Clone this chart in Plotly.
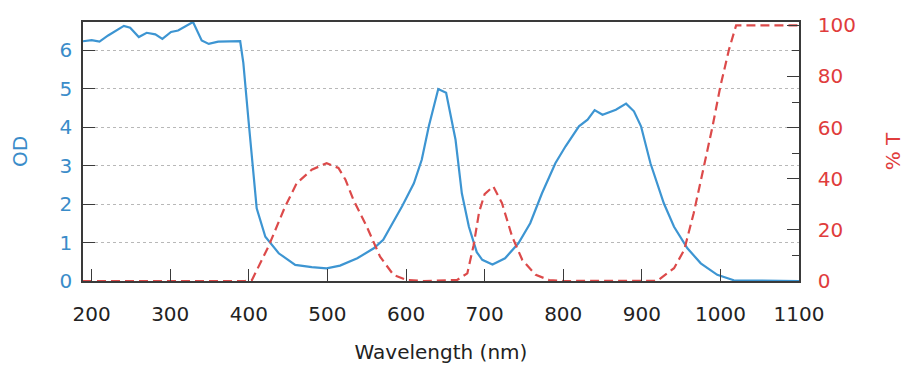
import plotly.graph_objects as go

# Optical density (blue, left axis)
od_wavelength = [189, 200, 210, 221, 241, 249, 260, 270, 281, 290, 301, 310, 329, 340, 349, 361, 389,
                 393, 399.5, 404, 410, 421, 438, 459, 480, 499, 516, 538, 559, 571, 595, 610, 620,
                 629, 641, 651, 663, 671, 680, 690, 697, 710, 726, 743, 758, 773, 790, 803, 820,
                 831, 840, 850, 867, 880, 890, 899, 911, 928, 941, 958, 975, 996, 1017, 1100]
od_values = [6.23, 6.26, 6.22, 6.38, 6.63, 6.58, 6.34, 6.45, 6.41, 6.29, 6.47, 6.51, 6.73, 6.25, 6.16, 6.22, 6.23,
             5.67, 4.19, 3.15, 1.89, 1.15, 0.72, 0.42, 0.36, 0.33, 0.40, 0.59, 0.85, 1.07, 1.94, 2.54, 3.15,
             4.02, 4.99, 4.89, 3.67, 2.28, 1.41, 0.75, 0.55, 0.43, 0.59, 0.98, 1.50, 2.28, 3.06, 3.50, 4.02,
             4.19, 4.44, 4.32, 4.45, 4.61, 4.41, 4.02, 3.06, 2.02, 1.41, 0.85, 0.46, 0.16, 0.02, 0.0]

# Transmission (red dashed, right axis)
t_wavelength = [189, 395, 404, 425, 446, 461, 480, 499, 514, 523, 533, 550, 567, 584, 601, 622,
                665, 678, 686, 693, 700, 711, 722, 735, 748, 765, 782, 800, 920, 941, 954, 966,
                979, 990, 1000, 1011, 1020, 1100]
t_values = [0, 0, 0.4, 13.5, 29, 38.3, 43.5, 46.1, 44.2, 39.6, 31.8, 21.3, 9.5, 2.4, 0.4, 0,
            0.4, 3, 14, 27, 34, 37, 30.5, 17.4, 8.2, 2.4, 0.4, 0, 0.1, 5, 12.2, 26.5,
            44.8, 60.5, 76.2, 90.6, 100, 100]

x_ticks = [200, 300, 400, 500, 600, 700, 800, 900, 1000, 1100]
od_ticks = [0, 1, 2, 3, 4, 5, 6]
t_ticks = [0, 20, 40, 60, 80, 100]

BLUE_LINE = "#3d95d2"
BLUE_TEXT = "#3a8cc9"
RED_LINE = "#dc4a4a"
RED_TEXT = "#e03c3c"
AX = "#3a3a3a"
FONT = "DejaVu Sans"

fig = go.Figure()
fig.add_trace(go.Scatter(x=od_wavelength, y=od_values, mode="lines",
                         line=dict(color=BLUE_LINE, width=2.2), yaxis="y", showlegend=False))
fig.add_trace(go.Scatter(x=t_wavelength, y=t_values, mode="lines",
                         line=dict(color=RED_LINE, width=2.2, dash="9px,5px"), yaxis="y2",
                         showlegend=False))

fig.update_layout(
    width=900, height=370,
    margin=dict(l=75, r=109, t=14, b=97, pad=0),
    plot_bgcolor="white", paper_bgcolor="white",
    font=dict(family=FONT, size=20, color="#222"),
    xaxis=dict(range=[189, 1100], tickvals=x_ticks, ticktext=[str(v) for v in x_ticks],
               automargin=False,
               ticks="inside", ticklen=12, tickwidth=1.3, tickcolor=AX, ticklabelstandoff=14,
               showline=True, linecolor=AX, linewidth=1.5, mirror=True,
               showgrid=False, zeroline=False,
               tickfont=dict(family=FONT, size=20, color="#222"),
               title=dict(text="Wavelength (nm)", font=dict(family=FONT, size=20, color="#222"), standoff=20)),
    yaxis=dict(range=[0, 6.73], tickvals=od_ticks, automargin=False,
               ticks="inside", ticklen=12, tickwidth=1.3, tickcolor=AX,
               ticklabelstandoff=5,
               showline=True, linecolor=AX, linewidth=1.5,
               showgrid=True, gridcolor="#b8b8b8", gridwidth=1, griddash="dot", zeroline=False,
               tickfont=dict(family=FONT, size=20, color=BLUE_TEXT),
               title=dict(text="OD", font=dict(family=FONT, size=20, color=BLUE_TEXT), standoff=38)),
    yaxis2=dict(range=[0, 101.3], tickvals=t_ticks, overlaying="y", side="right", anchor="x",
                automargin=False,
                ticks="inside", ticklen=12, tickwidth=1.3, tickcolor=AX, ticklabelstandoff=13,
                minor=dict(dtick=10, tick0=0, ticks="inside", ticklen=7, tickwidth=1.3, tickcolor=AX, showgrid=False),
                showline=True, linecolor=AX, linewidth=1.5,
                showgrid=False, zeroline=False,
                tickfont=dict(family=FONT, size=20, color=RED_TEXT),
                title=dict(text="% T", font=dict(family=FONT, size=20, color=RED_TEXT), standoff=31)),
)

fig.write_html("out.html")
